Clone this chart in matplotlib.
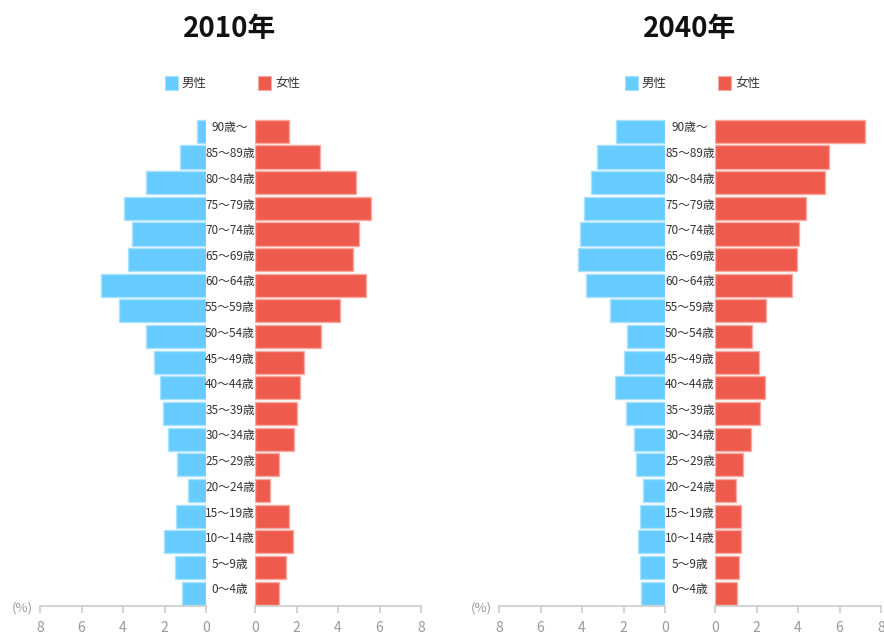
import matplotlib
matplotlib.use("Agg")
from matplotlib import pyplot as plt

plt.rcParams['font.family'] = ['Noto Sans CJK JP', 'DejaVu Sans']

# age groups, youngest first
ages = ['0～4歳', '5～9歳', '10～14歳', '15～19歳', '20～24歳', '25～29歳',
        '30～34歳', '35～39歳', '40～44歳', '45～49歳', '50～54歳', '55～59歳',
        '60～64歳', '65～69歳', '70～74歳', '75～79歳', '80～84歳', '85～89歳',
        '90歳～']

male_2010 = [1.14, 1.49, 2.04, 1.46, 0.86, 1.39, 1.83, 2.09, 2.23, 2.50,
             2.87, 4.21, 5.06, 3.78, 3.57, 3.97, 2.89, 1.23, 0.43]
female_2010 = [1.17, 1.48, 1.85, 1.63, 0.74, 1.16, 1.90, 2.03, 2.16, 2.38,
               3.17, 4.12, 5.36, 4.72, 5.01, 5.57, 4.88, 3.12, 1.64]
male_2040 = [1.14, 1.22, 1.32, 1.22, 1.08, 1.39, 1.50, 1.87, 2.40, 1.97,
             1.82, 2.66, 3.80, 4.17, 4.09, 3.88, 3.56, 3.27, 2.38]
female_2040 = [1.08, 1.16, 1.27, 1.24, 1.03, 1.37, 1.75, 2.16, 2.43, 2.14,
               1.79, 2.46, 3.72, 3.95, 4.07, 4.38, 5.28, 5.51, 7.23]

titles = ['2010年', '2040年']
legend_labels = ['男性', '女性']
ticks = [0, 2, 4, 6, 8]

male_color = '#66ccff'
male_edge = '#a8e2ff'
female_color = '#ee5a4c'
female_edge = '#f7aaa2'

W, H = 884, 636
fig = plt.figure(figsize=(W / 100, H / 100), dpi=100)


def fx(px):
    return px / W


def fy(py):
    return 1 - py / H


def style_axis(ax):
    for s in ['top', 'left', 'right']:
        ax.spines[s].set_visible(False)
    ax.spines['bottom'].set_color('#cccccc')
    ax.spines['bottom'].set_linewidth(1.2)
    ax.set_yticks([])
    ax.set_xticks(ticks)
    ax.tick_params(axis='x', colors='#cccccc', length=5, width=1.2,
                   labelcolor='#999999', labelsize=10, pad=6)
    ax.set_ylim(-0.5, len(ages) - 0.5)
    ax.patch.set_alpha(0)


panels = [
    (40, 255, 230, male_2010, female_2010, titles[0]),
    (499, 715, 690, male_2040, female_2040, titles[1]),
]

y = list(range(len(ages)))
top_px, bot_px = 118.5, 606
for mx, fxl, cx, mvals, fvals, title in panels:
    axm = fig.add_axes([fx(mx), fy(bot_px), fx(166), (bot_px - top_px) / H])
    axm.barh(y, mvals, height=0.9, color=male_color, edgecolor=male_edge, linewidth=1)
    axm.set_xlim(8, 0)
    style_axis(axm)

    axf = fig.add_axes([fx(fxl), fy(bot_px), fx(166), (bot_px - top_px) / H])
    axf.barh(y, fvals, height=0.9, color=female_color, edgecolor=female_edge, linewidth=1)
    axf.set_xlim(0, 8)
    style_axis(axf)

    # age labels in the gap
    for i, lab in enumerate(ages):
        ypx = 590 - i * (462 / 18)
        fig.text(fx(cx), fy(ypx), lab, ha='center', va='center',
                 fontsize=8.5, color='#333333')

    fig.text(fx(mx - 18), fy(608), '(%)', ha='center', va='center',
             fontsize=9.5, color='#999999')

    fig.text(fx(cx), fy(29), title, ha='center', va='center',
             fontsize=20, fontweight='bold', color='#111111')

    # legend
    for k, (lab, col, edge) in enumerate(zip(legend_labels,
                                             [male_color, female_color],
                                             [male_edge, female_edge])):
        lx = cx - 65 + k * 93
        fig.patches.append(plt.Rectangle((fx(lx), fy(90)), fx(13), 14 / H,
                                         transform=fig.transFigure,
                                         facecolor=col, edgecolor=edge,
                                         linewidth=0.8))
        fig.text(fx(lx + 17), fy(83), lab, ha='left', va='center',
                 fontsize=9, color='#333333')

fig.savefig('out.png', dpi=100)
